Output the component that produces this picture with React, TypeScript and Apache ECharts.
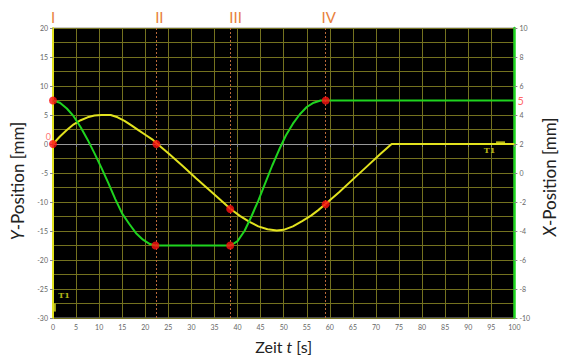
import React, { useEffect, useRef } from "react";
import * as echarts from "echarts";

// Y-Position (left axis, mm) — yellow
const yTimes = [0, 1.5, 3, 4.5, 6, 7.5, 9, 10.5, 12.5, 14, 15.5, 17, 18.5, 20, 21.5, 22.5, 25, 28, 31, 34, 36.5, 38.5, 40.5, 42.5, 44.5, 46.5, 48.5, 50, 52, 54, 56, 57.5, 59, 62, 65, 68, 71, 73.4, 100];
const yValues = [0, 1.3, 2.4, 3.4, 4.1, 4.6, 4.9, 5.0, 5.0, 4.6, 4.0, 3.2, 2.4, 1.6, 0.8, 0.1, -1.6, -3.7, -5.9, -8.0, -9.8, -11.2, -12.4, -13.4, -14.2, -14.7, -14.9, -14.8, -14.2, -13.3, -12.3, -11.4, -10.4, -8.3, -6.1, -3.9, -1.7, 0, 0];

// X-Position (right axis, mm) — green
const xTimes = [0, 1.5, 3, 4.5, 6, 7.5, 9, 10.5, 12, 13.5, 15, 16.5, 18, 19.5, 21, 22.2, 38.5, 40, 41.5, 43, 44.5, 46, 47.5, 49, 50.5, 52, 53.5, 55, 56.5, 58, 59.2, 100];
const xValues = [5, 4.85, 4.45, 3.9, 3.15, 2.3, 1.35, 0.35, -0.7, -1.8, -2.8, -3.5, -4.15, -4.6, -4.9, -5, -5, -4.7, -4.0, -3.0, -1.9, -0.7, 0.5, 1.6, 2.6, 3.4, 4.05, 4.55, 4.85, 5.0, 5.0, 5.0];

// Red marker points (t, left-axis value)
const markerTimes = [0, 0, 22.4, 22.2, 38.4, 38.4, 59.1, 59.1];
const markerValues = [7.5, 0, 0, -17.5, -11.2, -17.5, 7.5, -10.4];

// Phase lines
const phaseNames = ["I", "II", "III", "IV"];
const phaseTimes = [0, 22.4, 38.5, 59.1];

const xTicks = { min: 0, max: 100, interval: 5 };
const leftTicks = { min: -30, max: 20, interval: 5 };
const rightTicks = { min: -10, max: 10, interval: 2 };

const GREEN = "#1fd41f";
const YELLOW = "#e2e21e";
const RED = "#ff1010";
const ORANGE = "#e8813c";
const GRID = "#74721f";
const FONT = "Lato, 'Liberation Sans', sans-serif";

export default function App() {
  const ref = useRef<HTMLDivElement>(null);
  useEffect(() => {
    const chart = echarts.init(ref.current!, undefined, { renderer: "svg" });
    const tickLabel = { color: "#666", fontSize: 7, fontFamily: FONT };
    const nameRich = {
      a: { fontSize: 16, color: "#222", fontFamily: FONT },
      b: { fontSize: 16, color: "#222", fontFamily: FONT, fontStyle: "italic" as const },
    };
    const vRich = { a: { ...nameRich.a, fontSize: 17 }, b: { ...nameRich.b, fontSize: 17 } };
    chart.setOption({
      animation: false,
      backgroundColor: "#fff",
      grid: {
        left: 53,
        right: 46,
        top: 28,
        bottom: 39,
        show: true,
        backgroundColor: "#000",
        borderColor: "#999",
        borderWidth: 1,
      },
      xAxis: {
        type: "value",
        min: xTicks.min,
        max: xTicks.max,
        interval: xTicks.interval,
        name: "{a|Zeit }{b|t}{a| [s]}",
        nameLocation: "middle",
        nameGap: 20,
        nameTextStyle: { rich: nameRich },
        axisLine: { show: true, lineStyle: { color: "#999", width: 1 } },
        axisTick: { show: true, length: 3, lineStyle: { color: "#888" } },
        axisLabel: { ...tickLabel, margin: 5 },
        splitLine: { show: true, lineStyle: { color: GRID, width: 1 } },
      },
      yAxis: [
        {
          type: "value",
          position: "left",
          min: leftTicks.min,
          max: leftTicks.max,
          interval: leftTicks.interval,
          name: "{b|Y}{a|-Position [mm]}",
          nameLocation: "middle",
          nameRotate: 90,
          nameGap: 23,
          nameTextStyle: { rich: vRich, padding: [0, 16, 0, 0] },
          axisLine: { show: true, lineStyle: { color: YELLOW, width: 2 } },
          axisTick: { show: true, length: 3, lineStyle: { color: "#888" } },
          axisLabel: { ...tickLabel, margin: 5 },
          splitLine: { show: true, lineStyle: { color: GRID, width: 1 } },
          minorTick: { show: false, splitNumber: 2 },
          minorSplitLine: { show: true, lineStyle: { color: GRID, width: 1 } },
        },
        {
          type: "value",
          position: "right",
          min: rightTicks.min,
          max: rightTicks.max,
          interval: rightTicks.interval,
          name: "{b|X}{a|-Position [mm]}",
          nameLocation: "middle",
          nameRotate: 90,
          nameGap: 20,
          nameTextStyle: { rich: vRich, padding: [0, 8, 0, 0] },
          axisLine: { show: true, lineStyle: { color: GREEN, width: 2.5 } },
          axisTick: { show: true, length: 3, lineStyle: { color: "#888" } },
          axisLabel: { ...tickLabel, margin: 5 },
          splitLine: { show: false },
        },
      ],
      series: [
        {
          type: "line",
          name: "Y",
          yAxisIndex: 0,
          data: yTimes.map((t, i) => [t, yValues[i]]),
          showSymbol: false,
          lineStyle: { color: YELLOW, width: 2 },
          z: 3,
          markLine: {
            silent: true,
            symbol: ["none", "none"],
            lineStyle: { color: "#b8683a", type: [2, 2], width: 1 },
            label: {
              show: true,
              position: "end",
              distance: 4,
              color: ORANGE,
              fontSize: 15,
              fontFamily: FONT,
            },
            data: phaseTimes.map((t, i) => ({
              xAxis: t,
              label: { formatter: phaseNames[i], offset: [i === 0 ? 0 : i === 2 ? 5 : 3, 0] },
              lineStyle: i === 0 ? { color: "rgba(0,0,0,0)", width: 0 } : undefined,
            })),
          },
        },
        {
          type: "line",
          name: "X",
          yAxisIndex: 1,
          data: xTimes.map((t, i) => [t, xValues[i]]),
          showSymbol: false,
          lineStyle: { color: GREEN, width: 2 },
          z: 3,
        },
        {
          type: "scatter",
          yAxisIndex: 0,
          symbolSize: 8,
          itemStyle: { color: RED },
          z: 5,
          data: markerTimes.map((t, i) =>
            i === 1
              ? {
                  value: [t, markerValues[i]],
                  label: {
                    show: true,
                    formatter: "0",
                    position: "left",
                    distance: 0,
                    offset: [2, -8],
                    color: "#ff5050",
                    fontSize: 9,
                    fontFamily: FONT,
                  },
                }
              : [t, markerValues[i]]
          ),
        },
        {
          type: "scatter",
          yAxisIndex: 0,
          z: 6,
          silent: true,
          data: [
            {
              value: [100, 7.5],
              symbolSize: 0,
              label: { show: true, formatter: "5", position: "right", distance: 3, color: "#ff4040", fontSize: 11, fontFamily: FONT },
            },
            {
              value: [94.6, 0],
              symbolSize: 0,
              label: { show: true, formatter: "T1", position: "bottom", distance: 2, color: YELLOW, fontSize: 8, fontWeight: "bold", fontFamily: "'DejaVu Serif', serif" },
            },
            {
              value: [97, 0.2],
              symbol: "rect",
              symbolSize: [9, 3],
              itemStyle: { color: YELLOW },
            },
            {
              value: [2.4, -26],
              symbolSize: 0,
              label: { show: true, formatter: "T1", position: "inside", color: YELLOW, fontSize: 8, fontWeight: "bold", fontFamily: "'DejaVu Serif', serif" },
            },
            {
              value: [0.35, -28.2],
              symbol: "rect",
              symbolSize: [2.5, 8],
              itemStyle: { color: YELLOW },
            },
          ],
        },
      ],
    });
    return () => chart.dispose();
  }, []);
  return <div ref={ref} style={{ position: "fixed", left: 0, top: 0, width: 566, height: 359 }} />;
}
